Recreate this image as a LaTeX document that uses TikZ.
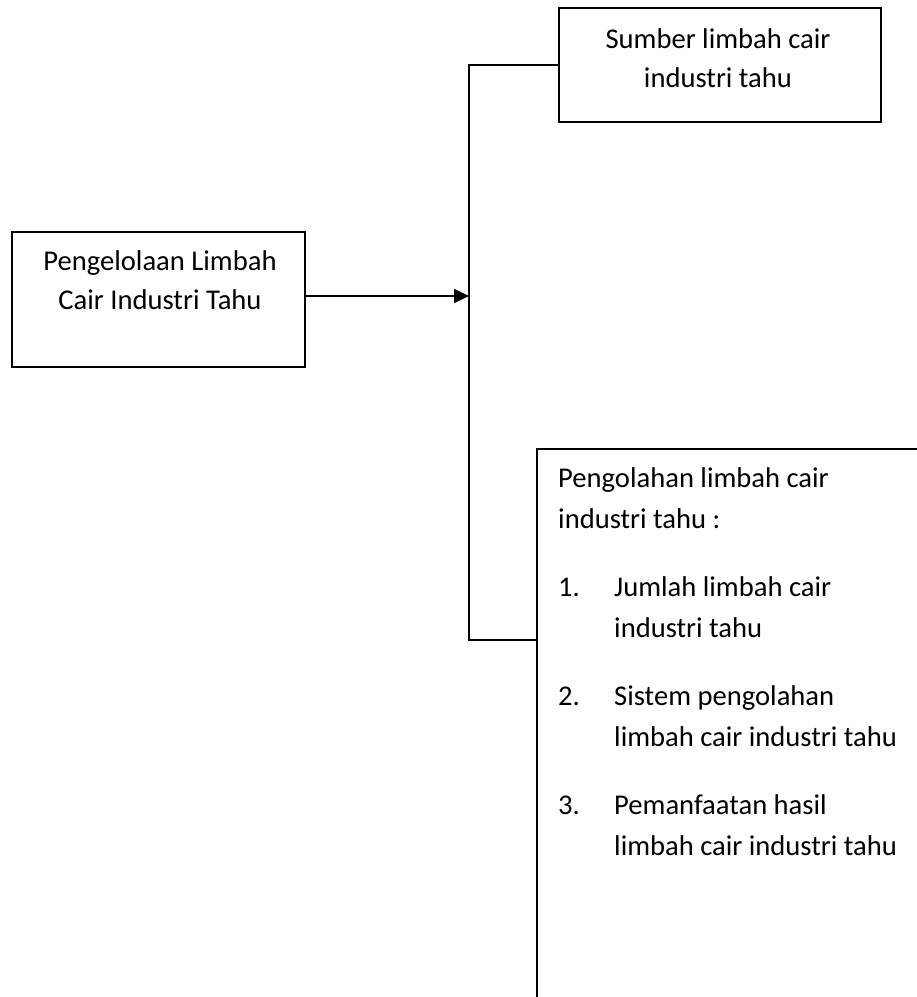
\documentclass[tikz,border=0pt]{standalone}
\usepackage{fontspec}
\setmainfont{Carlito}
\usetikzlibrary{arrows.meta}
\begin{document}
\begin{tikzpicture}[x=1pt,y=-1pt,
  line/.style={draw=black, line width=2pt},
  box/.style={line, fill=white, inner sep=0pt},
  txt/.style={inner sep=0pt, font=\fontsize{28.6pt}{39pt}\selectfont},
  listtxt/.style={inner sep=0pt, font=\fontsize{28.6pt}{41pt}\selectfont}
]
\clip (0,0) rectangle (917,997);
\fill[white] (0,0) rectangle (917,997);

% boxes
\node[box, minimum width=322pt, minimum height=114pt] (src) at (720,65) {};
\node[box, minimum width=293pt, minimum height=135pt] (mgmt) at (158.5,299.5) {};
\node[box, minimum width=500pt, minimum height=700pt, anchor=north west] (proc) at (536,448) {};

% texts
\node[txt, anchor=base] (srctext) at (718,48)
  {\begin{tabular}[t]{@{}c@{}}Sumber limbah cair\\industri tahu\end{tabular}};
\node[txt, anchor=base] (mgmttext) at (160,270)
  {\begin{tabular}[t]{@{}c@{}}Pengelolaan Limbah\\Cair Industri Tahu\end{tabular}};
\node[listtxt, anchor=base west] (proctext) at (558,487)
  {\begin{tabular}[t]{@{}p{56pt}@{}l@{}}
   \multicolumn{2}{@{}l@{}}{Pengolahan limbah cair}\\
   \multicolumn{2}{@{}l@{}}{industri tahu :}\\[27pt]
   1. & Jumlah limbah cair\\
      & industri tahu\\[27pt]
   2. & Sistem pengolahan\\
      & limbah cair industri tahu\\[27pt]
   3. & Pemanfaatan hasil\\
      & limbah cair industri tahu
   \end{tabular}};

% connectors
\coordinate (jb) at (469,640);
\coordinate (arrstart) at ([yshift=3.5pt]mgmt.east);
\draw[line] (src.west) -| (jb) -- (jb -| proc.west);
\draw[line, -{Triangle[length=15pt,width=14pt]}] (arrstart) -- (arrstart -| jb);
\end{tikzpicture}
\end{document}
